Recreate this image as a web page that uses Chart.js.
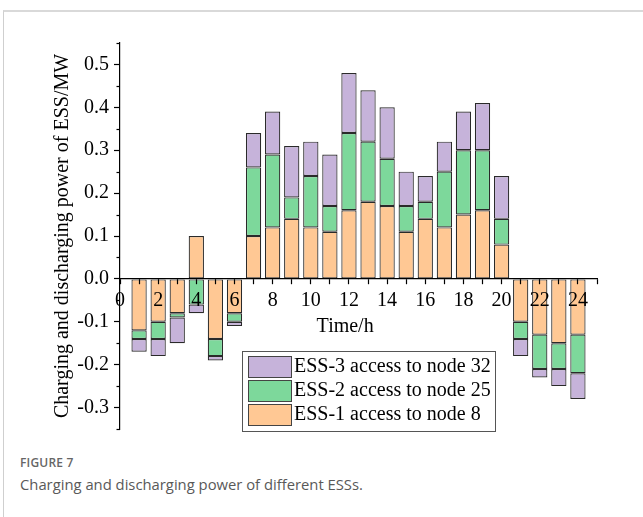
<!DOCTYPE html>
<html>
<head>
<meta charset="utf-8">
<script src="https://cdn.jsdelivr.net/npm/chart.js@4.4.1/dist/chart.umd.min.js"></script>
<style>
  html, body { margin: 0; padding: 0; background: #fff; }
  body { width: 643px; height: 517px; position: relative; overflow: hidden; }
  .frame { position: absolute; left: 3px; top: 10px; right: -2px; bottom: -2px;
           border-top: 2px solid #d9d9d9; border-left: 1px solid #cfcfcf; }
  .chart-box { position: absolute; left: 0; top: 0; width: 643px; height: 440px; }
  .fig-no { position: absolute; left: 20px; top: 454px; font: 600 12px "Open Sans", sans-serif;
            color: #666; letter-spacing: 0.2px; }
  .fig-cap { position: absolute; left: 20px; top: 474px; font: 14.8px "Open Sans", sans-serif;
             color: #595959; }
</style>
</head>
<body>
<div class="frame"></div>
<div class="chart-box"><canvas id="ess-power-chart"></canvas></div>
<div class="fig-no">FIGURE 7</div>
<div class="fig-cap">Charging and discharging power of different ESSs.</div>

<script>
const hours = [1, 2, 3, 4, 5, 6, 7, 8, 9, 10, 11, 12, 13, 14, 15, 16, 17, 18, 19, 20, 21, 22, 23, 24];

// MW per hour, positive = charging
const ess1 = [-0.12, -0.10, -0.08, 0.10, -0.14, -0.08, 0.10, 0.12, 0.14, 0.12, 0.11, 0.16,
              0.18, 0.17, 0.11, 0.14, 0.12, 0.15, 0.16, 0.08, -0.10, -0.13, -0.15, -0.13];
const ess2 = [-0.02, -0.04, -0.01, -0.06, -0.04, -0.02, 0.16, 0.17, 0.05, 0.12, 0.06, 0.18,
              0.14, 0.11, 0.06, 0.04, 0.13, 0.15, 0.14, 0.06, -0.04, -0.08, -0.06, -0.09];
const ess3 = [-0.03, -0.04, -0.06, -0.02, -0.01, -0.01, 0.08, 0.10, 0.12, 0.08, 0.12, 0.14,
              0.12, 0.12, 0.08, 0.06, 0.07, 0.09, 0.11, 0.10, -0.04, -0.02, -0.04, -0.06];

const seriesLabels = ['ESS-1 access to node 8', 'ESS-2 access to node 25', 'ESS-3 access to node 32'];

const xTicks = [0, 1, 2, 3, 4, 5, 6, 7, 8, 9, 10, 11, 12, 13, 14, 15, 16, 17, 18, 19, 20, 21, 22, 23, 24, 25];
const yTicks = [-0.3, -0.2, -0.1, 0.0, 0.1, 0.2, 0.3, 0.4, 0.5];
const yMinorTicks = [-0.35, -0.25, -0.15, -0.05, 0.05, 0.15, 0.25, 0.35, 0.45, 0.55];

const colors = ['#FFC894', '#7DD89B', '#C6B3DA'];
const edge = '#2a2a2a';
const serif = '"Liberation Serif", "Times New Roman", serif';

Chart.defaults.font.family = serif;
Chart.defaults.font.size = 20;
Chart.defaults.color = '#000';

const toPoints = (vals) => vals.map((v, i) => ({ x: hours[i], y: v }));

// short ticks between the labelled y values, x title, boxed legend
const extras = {
  id: 'extras',
  afterDraw(chart) {
    const { ctx, scales: { x, y }, chartArea } = chart;
    ctx.save();
    ctx.strokeStyle = '#000';
    ctx.lineWidth = 1.2;
    yMinorTicks.forEach((v) => {
      const py = Math.round(y.getPixelForValue(v)) + 0.5;
      ctx.beginPath();
      ctx.moveTo(chartArea.left - 3.5, py);
      ctx.lineTo(chartArea.left, py);
      ctx.stroke();
    });

    ctx.font = '20px ' + serif;
    ctx.fillStyle = '#000';
    ctx.textAlign = 'center';
    ctx.textBaseline = 'middle';
    ctx.fillText('Time/h', x.getPixelForValue(11.8), y.getPixelForValue(0) + 48);

    // legend, last series on top
    const box = { left: 242, top: 351, width: 253, height: 80 };
    ctx.lineWidth = 1;
    ctx.strokeStyle = '#555';
    ctx.fillStyle = '#fff';
    ctx.fillRect(box.left, box.top, box.width, box.height);
    ctx.strokeRect(box.left + 0.5, box.top + 0.5, box.width, box.height);
    ctx.textAlign = 'left';
    const order = [2, 1, 0];
    order.forEach((d, row) => {
      const top = box.top + 5 + row * 24;
      ctx.fillStyle = colors[d];
      ctx.fillRect(box.left + 6, top, 43, 21);
      ctx.strokeStyle = '#444';
      ctx.strokeRect(box.left + 6.5, top + 0.5, 43, 21);
      ctx.fillStyle = '#000';
      ctx.fillText(chart.data.datasets[d].label, box.left + 52, top + 11);
    });
    ctx.restore();
  }
};

const ctx = document.getElementById('ess-power-chart').getContext('2d');

new Chart(ctx, {
  type: 'bar',
  data: {
    datasets: [ess1, ess2, ess3].map((vals, i) => ({
      label: seriesLabels[i],
      data: toPoints(vals),
      backgroundColor: colors[i],
      borderColor: edge,
      borderWidth: 1.2,
      borderSkipped: false,
      categoryPercentage: 1,
      barPercentage: 0.8,
    })),
  },
  options: {
    responsive: true,
    maintainAspectRatio: false,
    animation: false,
    layout: { padding: { top: 43, right: 46, bottom: 11, left: 0 } },
    plugins: {
      legend: { display: false },
      tooltip: { enabled: false },
    },
    scales: {
      x: {
        type: 'linear',
        position: { y: 0 },
        offset: false,
        min: 0,
        max: 25,
        stacked: true,
        afterBuildTicks: (scale) => { scale.ticks = xTicks.map((v) => ({ value: v })); },
        afterFit: (scale) => { scale.paddingLeft = 0; scale.paddingRight = 0; },
        ticks: {
          z: 1,
          autoSkip: false,
          maxRotation: 0,
          padding: 5,
          callback: (v) => (v % 2 === 0 && v <= 24 ? String(v) : ''),
        },
        grid: { z: 1, offset: false, drawOnChartArea: false, tickLength: 5, tickColor: '#000', tickWidth: 1.2 },
        border: { z: 1, color: '#000', width: 1.2 },
      },
      y: {
        min: -0.35,
        max: 0.55,
        stacked: true,
        afterFit: (scale) => { scale.width = 120; scale.paddingTop = 0; scale.paddingBottom = 0; },
        afterBuildTicks: (scale) => { scale.ticks = yTicks.map((v) => ({ value: v })); },
        ticks: {
          padding: 5,
          callback: (v) => v.toFixed(1),
        },
        grid: { drawOnChartArea: false, tickLength: 6, tickColor: '#000', tickWidth: 1.2 },
        border: { color: '#000', width: 1.2 },
        title: {
          display: true,
          text: 'Charging and discharging power of ESS/MW',
          padding: { top: 51, bottom: 0 },
        },
      },
    },
  },
  plugins: [extras],
});
</script>
</body>
</html>
